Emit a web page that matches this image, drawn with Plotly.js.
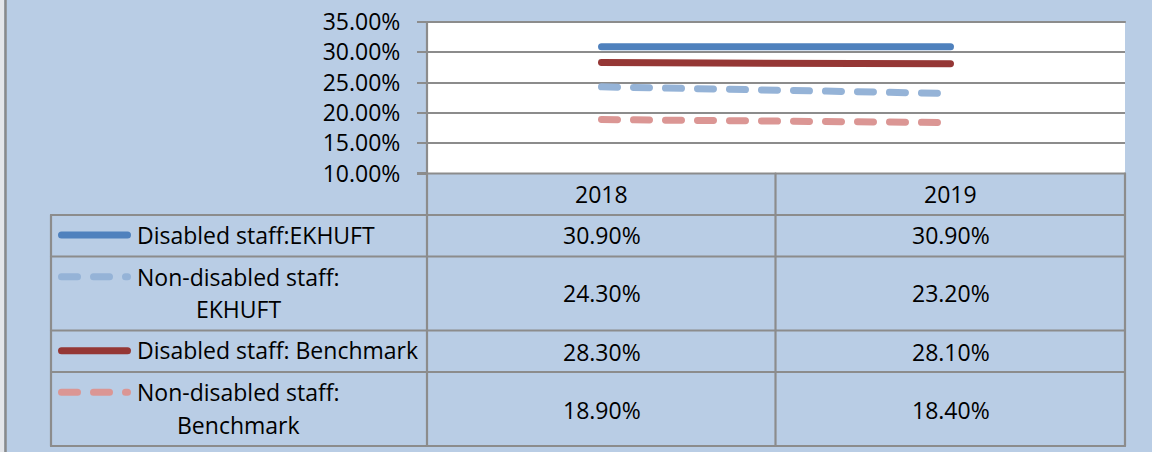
<!DOCTYPE html>
<html>
<head>
<meta charset="utf-8">
<script src="https://cdn.plot.ly/plotly-3.0.1.min.js"></script>
<style>
  html, body { margin: 0; padding: 0; background: #B9CDE5; }
  #chart { width: 1152px; height: 452px; }
  .js-line { stroke-linecap: round; }
  .shapelayer path { stroke-linecap: round; }
</style>
</head>
<body>
<div id="chart"></div>
<script>
// ---- data ----
var categories = ['2018', '2019'];
var seriesNames = ['Disabled staff:EKHUFT', 'Non-disabled staff: EKHUFT', 'Disabled staff: Benchmark', 'Non-disabled staff: Benchmark'];
var tableLabelLines = [
  ['Disabled staff:EKHUFT'],
  ['Non-disabled staff:', 'EKHUFT'],
  ['Disabled staff: Benchmark'],
  ['Non-disabled staff:', 'Benchmark']
];
var disabledEKHUFT = [0.309, 0.309];
var nonDisabledEKHUFT = [0.243, 0.232];
var disabledBenchmark = [0.283, 0.281];
var nonDisabledBenchmark = [0.189, 0.184];
var yTickValues = [0.10, 0.15, 0.20, 0.25, 0.30, 0.35];

var seriesValues = [disabledEKHUFT, nonDisabledEKHUFT, disabledBenchmark, nonDisabledBenchmark];
var seriesColors = ['#4F81BD', '#95B3D7', '#953735', '#DB9694'];
var seriesDash = ['solid', '16px,16px', 'solid', '16px,16px'];

// ---- layout helpers (pixel -> paper) ----
var W = 1152, H = 452;
function X(px) { return px / W; }
function Y(py) { return 1 - py / H; }

var FONT = '"Open Sans", "Noto Sans", sans-serif';
var FS = 23;
var GRID = '#8C8C8C';

var plotL = 427, plotR = 1125, plotT = 22, plotB = 173.5;
var colMid = 775.5, tableL = 51;
var rowLines = [173.5, 215, 256.5, 330.5, 372, 446];
var rowValueY = [235.3, 293.3, 351.5, 410];
var rowLabelY = [[235], [276.5, 308.5], [350], [391.5, 425]];
var symbolY = [235, 276.7, 350.7, 392.3];
var labelLeft = 135;

var traces = seriesValues.map(function (vals, i) {
  return {
    x: categories, y: vals, type: 'scatter', mode: 'lines', name: seriesNames[i],
    line: { color: seriesColors[i], width: 7, dash: seriesDash[i] },
    hoverinfo: 'skip'
  };
});

var shapes = [];
function hline(y, x0, x1, w) {
  shapes.push({ type: 'line', xref: 'paper', yref: 'paper', x0: X(x0), x1: X(x1), y0: Y(y), y1: Y(y), line: { color: GRID, width: w || 2.2 } });
}
function vline(x, y0, y1, w, c) {
  shapes.push({ type: 'line', xref: 'paper', yref: 'paper', x0: X(x), x1: X(x), y0: Y(y0), y1: Y(y1), line: { color: c || GRID, width: w || 2.2 } });
}
// outer left border
shapes.push({ type: 'rect', xref: 'paper', yref: 'paper', x0: 0, x1: X(4), y0: 0, y1: 1, fillcolor: '#E4E6EA', line: { width: 0 } });
vline(5.5, 0, H, 2.5, '#8A8A8A');
// top edge of plot area
hline(plotT, plotL, plotR);
// table lines
hline(rowLines[0], plotL, plotR);
for (var r = 1; r < rowLines.length; r++) hline(rowLines[r], tableL, plotR);
vline(tableL, rowLines[1], rowLines[5]);
vline(plotL, plotT, rowLines[5]);
vline(colMid, rowLines[0], rowLines[5]);
vline(plotR, rowLines[0], rowLines[5]);
// legend keys inside table
seriesColors.forEach(function (c, i) {
  shapes.push({ type: 'line', xref: 'paper', yref: 'paper', x0: X(61.5), x1: X(127.5), y0: Y(symbolY[i]), y1: Y(symbolY[i]),
    line: { color: c, width: 7, dash: seriesDash[i] } });
});

var annotations = [];
// header categories (x given as category index on the category axis)
categories.forEach(function (c, j) {
  annotations.push({ xref: 'x', yref: 'paper', x: j, y: Y(194), text: c, showarrow: false, xanchor: 'center', yanchor: 'middle', font: { family: FONT, size: FS, color: '#000' } });
});
// measure text for centered second lines
var cvs = document.createElement('canvas').getContext('2d');
cvs.font = FS + 'px "Open Sans"';
tableLabelLines.forEach(function (lines, i) {
  var w1 = cvs.measureText(lines[0]).width;
  lines.forEach(function (t, k) {
    annotations.push({ xref: 'paper', yref: 'paper', x: k === 0 ? X(labelLeft) : X(labelLeft + 2 + w1 / 2), y: Y(rowLabelY[i][k]), text: t, showarrow: false,
      xanchor: k === 0 ? 'left' : 'center', yanchor: 'middle', font: { family: FONT, size: FS, color: '#000' } });
  });
});
// values
seriesValues.forEach(function (vals, i) {
  vals.forEach(function (v, j) {
    annotations.push({ xref: 'x', yref: 'paper', x: j, y: Y(rowValueY[i]), text: (v * 100).toFixed(2) + '%', showarrow: false,
      xanchor: 'center', yanchor: 'middle', font: { family: FONT, size: FS, color: '#000' } });
  });
});

var layout = {
  width: W, height: H,
  margin: { l: 0, r: 0, t: 0, b: 0, pad: 0 },
  paper_bgcolor: '#B9CDE5',
  plot_bgcolor: '#FFFFFF',
  showlegend: false,
  xaxis: {
    domain: [X(plotL), X(plotR)], type: 'category', range: [-0.5, 1.5],
    showticklabels: false, ticks: '', showgrid: false, zeroline: false,
    showline: false, fixedrange: true
  },
  yaxis: {
    domain: [Y(plotB), Y(plotT)], range: [0.10, 0.35], tickvals: yTickValues, tickformat: '.2%',
    ticks: 'outside', ticklen: 9, tickwidth: 2.2, tickcolor: GRID,
    showgrid: true, gridcolor: GRID, gridwidth: 2.2, zeroline: false, showline: false,
    ticklabelstandoff: 12,
    tickfont: { family: FONT, size: FS, color: '#000' }, fixedrange: true
  },
  shapes: shapes,
  annotations: annotations
};

Plotly.newPlot('chart', traces, layout, { staticPlot: true, displayModeBar: false });
</script>
</body>
</html>
